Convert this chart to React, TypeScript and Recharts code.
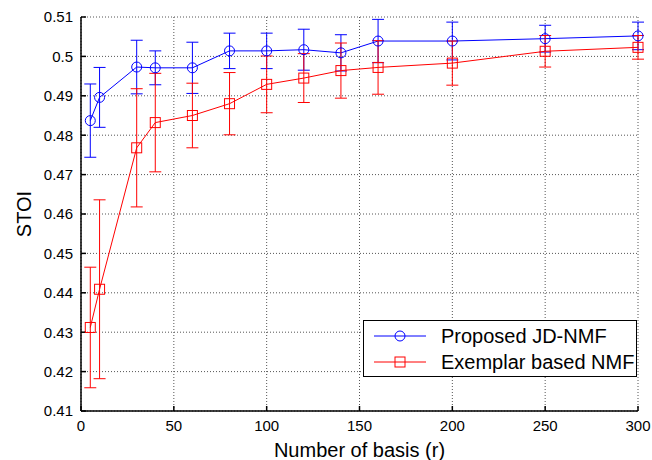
import { LineChart, Line, XAxis, YAxis, CartesianGrid, ErrorBar } from 'recharts';

// Number of basis (r)
const basis = [5, 10, 30, 40, 60, 80, 100, 120, 140, 160, 200, 250, 300];

// Proposed JD-NMF: mean STOI and error (±)
const jdNmf = [0.4837, 0.4896, 0.4973, 0.4971, 0.4971, 0.5014, 0.5014, 0.5017, 0.5009, 0.5039, 0.5039, 0.5045, 0.5052];
const jdNmfErr = [0.0093, 0.0076, 0.0068, 0.0043, 0.0065, 0.0045, 0.0045, 0.0052, 0.0046, 0.0055, 0.0048, 0.0034, 0.0035];

// Exemplar based NMF: mean STOI and error (±)
const exNmf = [0.4312, 0.4409, 0.4768, 0.4832, 0.485, 0.488, 0.4929, 0.4945, 0.4964, 0.4972, 0.4983, 0.5013, 0.5023];
const exNmfErr = [0.0153, 0.0227, 0.015, 0.0125, 0.0082, 0.0079, 0.0072, 0.0062, 0.007, 0.0068, 0.0056, 0.004, 0.003];

const xTicks = [0, 50, 100, 150, 200, 250, 300];
const yTicks = [0.41, 0.42, 0.43, 0.44, 0.45, 0.46, 0.47, 0.48, 0.49, 0.5, 0.51];

const data = basis.map((r, i) => ({
  r,
  jd: jdNmf[i],
  jdErr: jdNmfErr[i],
  ex: exNmf[i],
  exErr: exNmfErr[i],
}));

const FONT = '"Liberation Sans", Arial, sans-serif';
const BLUE = '#0000ff';
const RED = '#ff0000';

const SquareDot = (props: any) => {
  const { cx, cy, index } = props;
  if (cx == null || cy == null) return null;
  return (
    <rect key={`sq-${index}`} x={cx - 5} y={cy - 5} width={10} height={10} fill="none" stroke={RED} strokeWidth={1} />
  );
};

// matlab style: ticks point inward
const axisProps = {
  stroke: '#000',
  strokeWidth: 1.5,
  tickSize: -5,
};

function LegendBox() {
  const rows = [
    { label: 'Proposed JD-NMF', color: BLUE, shape: 'circle' },
    { label: 'Exemplar based NMF', color: RED, shape: 'square' },
  ];
  return (
    <div
      style={{
        position: 'absolute',
        left: 363,
        top: 320,
        width: 274,
        height: 57,
        border: '1.5px solid #000',
        background: '#fff',
        fontFamily: FONT,
        fontSize: 20,
        lineHeight: '26px',
        padding: '2px 0',
        boxSizing: 'border-box',
      }}
    >
      {rows.map((row) => (
        <div key={row.label} style={{ display: 'flex', alignItems: 'center', height: 26 }}>
          <svg width={58} height={14} style={{ marginLeft: 9, marginRight: 10 }}>
            <line x1={1} x2={53} y1={7} y2={7} stroke={row.color} strokeWidth={1} />
            {row.shape === 'circle' ? (
              <circle cx={27} cy={7} r={5} fill="none" stroke={row.color} />
            ) : (
              <rect x={22} y={2} width={10} height={10} fill="none" stroke={row.color} />
            )}
          </svg>
          <span>{row.label}</span>
        </div>
      ))}
    </div>
  );
}

export default function App() {
  return (
    <div
      style={{
        position: 'fixed',
        left: 0,
        top: 0,
        width: 652,
        height: 460,
        overflow: 'hidden',
        background: '#fff',
      }}
    >
      <LineChart
        width={652}
        height={460}
        data={data}
        margin={{ top: 17, right: 14, left: 0, bottom: 0 }}
        style={{ fontFamily: FONT }}
      >
        <CartesianGrid stroke="#555" strokeDasharray="1 2" />
        <XAxis
          dataKey="r"
          type="number"
          domain={[0, 300]}
          ticks={xTicks}
          interval={0}
          height={49}
          tickMargin={14}
          tick={{ fill: '#000', fontSize: 15 }}
          {...axisProps}
          label={{ value: 'Number of basis (r)', position: 'insideBottom', offset: 3, fill: '#000', fontSize: 20 }}
        />
        <XAxis
          xAxisId="top"
          orientation="top"
          dataKey="r"
          type="number"
          domain={[0, 300]}
          ticks={xTicks}
          interval={0}
          height={0}
          tick={false}
          {...axisProps}
        />
        <YAxis
          type="number"
          domain={[0.41, 0.51]}
          ticks={yTicks}
          interval={0}
          width={81}
          tickMargin={13}
          tick={{ fill: '#000', fontSize: 15 }}
          tickFormatter={(v: number) => String(+v.toFixed(2))}
          {...axisProps}
          label={(p: any) => {
            const vb = p.viewBox || { x: 0, y: 0, height: 0 };
            const cy = vb.y + vb.height / 2;
            return (
              <text
                x={24}
                y={cy}
                transform={`rotate(-90 24 ${cy})`}
                textAnchor="middle"
                dominantBaseline="central"
                fill="#000"
                fontSize={20}
                fontFamily={FONT}
              >
                STOI
              </text>
            );
          }}
        />
        <YAxis
          yAxisId="right"
          orientation="right"
          type="number"
          domain={[0.41, 0.51]}
          ticks={yTicks}
          interval={0}
          width={0}
          tick={false}
          {...axisProps}
        />
        <Line
          dataKey="jd"
          stroke={BLUE}
          strokeWidth={1}
          isAnimationActive={false}
          dot={{ r: 5, fill: 'none', stroke: BLUE, strokeWidth: 1 }}
          activeDot={false}
        >
          <ErrorBar dataKey="jdErr" width={6} stroke={BLUE} strokeWidth={1} direction="y" isAnimationActive={false} />
        </Line>
        <Line
          dataKey="ex"
          stroke={RED}
          strokeWidth={1}
          isAnimationActive={false}
          dot={SquareDot}
          activeDot={false}
        >
          <ErrorBar dataKey="exErr" width={6} stroke={RED} strokeWidth={1} direction="y" isAnimationActive={false} />
        </Line>
      </LineChart>
      <LegendBox />
    </div>
  );
}
